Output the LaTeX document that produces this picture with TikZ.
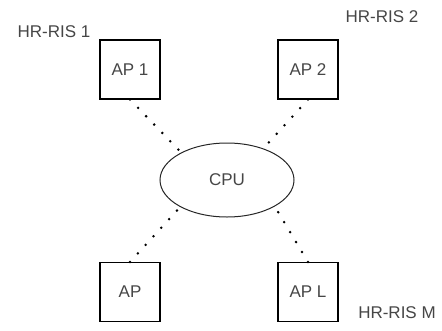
\documentclass[tikz,border=0pt]{standalone}
\usepackage{fontspec}
\setmainfont{Liberation Sans}
\usetikzlibrary{shapes.geometric}
\definecolor{txtgray}{RGB}{70,70,70}
\tikzset{
  apbox/.style={draw=black,line width=1.1pt,minimum width=60pt,minimum height=59pt,inner sep=0pt,text=txtgray,font=\fontsize{17}{20}\selectfont},
  cpunode/.style={ellipse,draw=black!85,line width=1pt,minimum width=134pt,minimum height=74pt,inner sep=0pt,text=txtgray,font=\fontsize{17}{20}\selectfont},
  rislabel/.style={text=txtgray,font=\fontsize{17}{20}\selectfont,inner sep=0pt},
  dots/.style={line width=2.8pt,line cap=round,dash pattern=on 0pt off 11.6pt}
}
\begin{document}
\begin{tikzpicture}[x=1pt,y=-1pt]
  \useasboundingbox (0,0) rectangle (442,330);
  \node[cpunode] (cpu) at (227,180) {CPU};
  \node[apbox] (ap1) at (130,69.5) {AP 1};
  \node[apbox] (ap2) at (308,69.5) {AP 2};
  \node[apbox] (ap) at (130,292) {AP};
  \node[apbox] (apl) at (308,292) {AP L};
  \node[rislabel] (ris1) at (54,32) {HR-RIS 1};
  \node[rislabel] (ris2) at (382,17) {HR-RIS 2};
  \node[rislabel] (rism) at (397,313) {HR-RIS M};
  \draw[dots] (ap1.south) -- (cpu.149);
  \draw[dots] (ap2.south) -- (cpu.41);
  \draw[dots] (ap.north) -- (cpu.210);
  \draw[dots] (apl.north) -- (cpu.331);
\end{tikzpicture}
\end{document}
